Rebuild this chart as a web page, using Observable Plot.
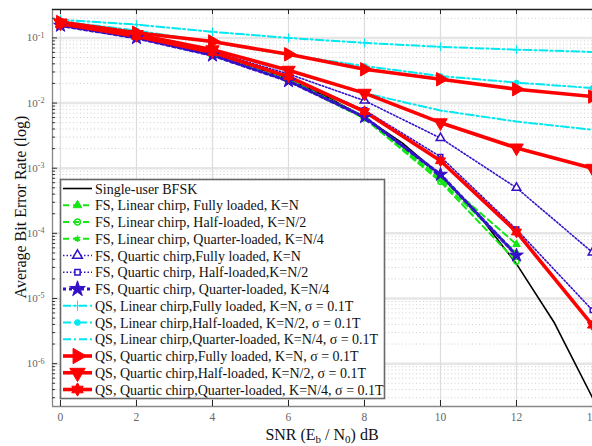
<!DOCTYPE html>
<html><head><meta charset="utf-8">
<script src="https://cdn.jsdelivr.net/npm/d3@7"></script>
<script src="https://cdn.jsdelivr.net/npm/@observablehq/plot@0.6"></script>
<style>body{margin:0;background:#fff}#chart{width:592px;height:446px}</style>
</head><body><div id="chart"></div>
<script>
// ---- data ----
const snr = [0, 2, 4, 6, 8, 10, 12, 14];
const snrFS = [0, 2, 4, 6, 8, 10, 12];
const snrBFSK = [0, 1, 2, 3, 4, 5, 6, 7, 8, 9, 10, 11, 12, 13, 14];
const berBFSK = [0.159, 0.131, 0.104, 0.0789, 0.0565, 0.0377, 0.023, 0.0126, 0.006, 0.00242, 7.8e-4, 1.93e-4, 3.4e-5, 4.2e-6, 3.0e-7];
const berFSLinFull = [0.158, 0.103, 0.056, 0.023, 0.0062, 7.0e-4, 6.8e-5];
const berFSLinHalf = [0.157, 0.102, 0.055, 0.022, 0.0058, 6.2e-4, 3.7e-5];
const berFSLinQuarter = [0.157, 0.102, 0.055, 0.0225, 0.006, 6.5e-4, 5.0e-5];
const berFSQuaFull = [0.16, 0.108, 0.062, 0.028, 0.0109, 0.0029, 5.0e-4, 5.1e-5];
const berFSQuaHalf = [0.16, 0.105, 0.058, 0.025, 0.0078, 0.0015, 1.15e-4, 6.6e-6];
const berFSQuaQuarter = [0.155, 0.1, 0.054, 0.0218, 0.0061, 8.0e-4, 4.6e-5];
const berQSLinFull = [0.19, 0.16, 0.124, 0.1, 0.084, 0.073, 0.066, 0.061];
const berQSLinHalf = [0.18, 0.13, 0.086, 0.055, 0.037, 0.026, 0.0206, 0.017];
const berQSLinQuarter = [0.17, 0.115, 0.066, 0.031, 0.0142, 0.0077, 0.0052, 0.0039];
const berQSQuaFull = [0.175, 0.12, 0.088, 0.056, 0.033, 0.0232, 0.0163, 0.0126];
const berQSQuaHalf = [0.17, 0.113, 0.066, 0.032, 0.0142, 0.005, 0.00205, 0.001];
const berQSQuaQuarter = [0.165, 0.106, 0.06, 0.0254, 0.0074, 0.0013, 1.05e-4, 3.9e-6];

const legendLabels = [
  "Single-user BFSK",
  "FS, Linear chirp, Fully loaded, K=N",
  "FS, Linear chirp, Half-loaded, K=N/2",
  "FS, Linear chirp, Quarter-loaded, K=N/4",
  "FS, Quartic chirp,Fully loaded, K=N",
  "FS, Quartic chirp, Half-loaded,K=N/2",
  "FS, Quartic chirp, Quarter-loaded, K=N/4",
  "QS, Linear chirp,Fully loaded, K=N, σ = 0.1T",
  "QS, Linear chirp,Half-loaded, K=N/2, σ = 0.1T",
  "QS, Linear chirp,Quarter-loaded, K=N/4, σ = 0.1T",
  "QS, Quartic chirp,Fully loaded, K=N, σ = 0.1T",
  "QS, Quartic chirp,Half-loaded, K=N/2, σ = 0.1T",
  "QS, Quartic chirp,Quarter-loaded, K=N/4, σ = 0.1T"
];
const xTicks = [0, 2, 4, 6, 8, 10, 12, 14];
const yDecades = [1e-6, 1e-5, 1e-4, 1e-3, 1e-2, 1e-1];
const xDomain = [-0.21, 14];
const yDomain = [2.2e-7, 0.273];

// ---- styles ----
const GREEN = "#14e614", BLUE = "#3410c8", CYAN = "#00e8f0", RED = "#ff0000";
const hexagram = {
  draw(ctx, size) {
    const R = Math.sqrt(size / 1.732), r0 = R / Math.sqrt(3);
    for (let k = 0; k < 12; k++) {
      const a = k * Math.PI / 6 - Math.PI / 2, rr = k % 2 ? r0 : R;
      const px = rr * Math.cos(a), py = rr * Math.sin(a);
      if (k) ctx.lineTo(px, py); else ctx.moveTo(px, py);
    }
    ctx.closePath();
  }
};
const series = [
  {x: snrBFSK, y: berBFSK, stroke: "#000", sw: 1.6, dash: null, sym: null},
  {x: snrFS, y: berFSLinFull, stroke: GREEN, sw: 2, dash: "6,4", sym: d3.symbolTriangle, r: 2.8, fill: GREEN},
  {x: snrFS, y: berFSLinHalf, stroke: GREEN, sw: 2, dash: "6,4", sym: d3.symbolCircle, r: 2.6, fill: "none", msw: 1.5},
  {x: snrFS, y: berFSLinQuarter, stroke: GREEN, sw: 2, dash: "6,4", sym: d3.symbolAsterisk, r: 2.6, fill: "none", msw: 1.5},
  {x: snr, y: berFSQuaFull, stroke: BLUE, sw: 1.6, dash: "1.5,2", sym: d3.symbolTriangle, r: 3.2, fill: "white", msw: 1.5},
  {x: snr, y: berFSQuaHalf, stroke: BLUE, sw: 1.6, dash: "1.5,2", sym: d3.symbolSquare, r: 2.6, fill: "white", msw: 1.5},
  {x: snrFS, y: berFSQuaQuarter, stroke: BLUE, sw: 3.2, dash: "3,3", sym: d3.symbolStar, r: 4.3, fill: BLUE},
  {x: snr, y: berQSLinFull, stroke: CYAN, sw: 2, dash: "8,3,2,3", sym: d3.symbolPlus, r: 3, fill: CYAN},
  {x: snr, y: berQSLinHalf, stroke: CYAN, sw: 2, dash: "8,3,2,3", sym: d3.symbolCircle, r: 2.5, fill: CYAN},
  {x: snr, y: berQSLinQuarter, stroke: CYAN, sw: 2, dash: "8,3,2,3", sym: null},
  {x: snr, y: berQSQuaFull, stroke: RED, sw: 3.6, dash: null, sym: d3.symbolTriangle, r: 5, fill: RED, rot: 90},
  {x: snr, y: berQSQuaHalf, stroke: RED, sw: 3.6, dash: null, sym: d3.symbolTriangle, r: 5, fill: RED, rot: 180},
  {x: snr, y: berQSQuaQuarter, stroke: RED, sw: 3.6, dash: null, sym: hexagram, r: 4.3, fill: RED}
];
const rows = series.flatMap((s, i) => s.x.map((x, j) => ({series: i, snr: x, ber: s.y[j]})));

const minor = [];
for (let k = -7; k <= -1; k++) for (let m = 2; m <= 9; m++) {
  const v = m * Math.pow(10, k);
  if (v > yDomain[0] && v < yDomain[1]) minor.push(v);
}

const W = 592, H = 446, mT = 9, mB = 40, mL = 52, mR = 0;
const plotW = W - mL - mR, plotH = H - mT - mB;

const marks = [
  Plot.ruleY(minor, {stroke: "#cfcfcf", strokeDasharray: "1,2.5"}),
  Plot.ruleY(yDecades, {stroke: "#e6e6e6", strokeWidth: 2.5}),
  Plot.ruleX(xTicks, {stroke: "#dcdcdc", strokeWidth: 1.2}),
  Plot.ruleX([xDomain[0]], {stroke: "#888", strokeWidth: 1.3}),
  Plot.ruleY([yDomain[0]], {stroke: "#888", strokeWidth: 1.3}),
  Plot.ruleY([yDomain[1]], {stroke: "#222", strokeWidth: 1.3}),
  Plot.ruleY(minor, {stroke: "#333", insetRight: plotW - 3}),
  Plot.ruleY(yDecades, {stroke: "#333", insetRight: plotW - 5}),
  Plot.ruleX(xTicks, {stroke: "#222", insetBottom: plotH - 5}),
  Plot.ruleX(xTicks, {stroke: "#222", insetTop: plotH - 6}),
  Plot.axisY({ticks: yDecades, tickSize: 0, tickPadding: 8, fontSize: 11, fill: "#666",
    tickFormat: d => String(Math.round(Math.log10(d))), label: null}),
  Plot.axisX({ticks: xTicks, tickSize: 0, tickPadding: 6, fontSize: 11.5, fill: "#666",
    tickFormat: d => String(d), label: null})
];
series.forEach((s, i) => {
  const data = rows.filter(d => d.series === i);
  marks.push(Plot.line(data, {x: "snr", y: "ber", stroke: s.stroke, strokeWidth: s.sw,
    strokeDasharray: s.dash, strokeLinejoin: "round"}));
});
series.forEach((s, i) => {
  if (!s.sym) return;
  const data = rows.filter(d => d.series === i);
  marks.push(Plot.dot(data, {x: "snr", y: "ber", symbol: s.sym, r: s.r, fill: s.fill,
    stroke: s.stroke, strokeWidth: s.msw || 1, rotate: s.rot || 0}));
});

const svg = Plot.plot({
  width: W, height: H, marginTop: mT, marginBottom: mB, marginLeft: mL, marginRight: mR,
  x: {domain: xDomain},
  y: {type: "log", domain: yDomain},
  style: {fontFamily: "'Liberation Serif', 'Times New Roman', serif", background: "white", overflow: "hidden"},
  marks
});

// superscript exponents on y tick labels
svg.querySelectorAll('g[aria-label="y-axis tick label"] text').forEach(t => {
  const e = t.textContent;
  t.textContent = "10";
  const ts = document.createElementNS("http://www.w3.org/2000/svg", "tspan");
  ts.setAttribute("dy", "-0.45em");
  ts.setAttribute("font-size", "8");
  ts.textContent = e;
  t.appendChild(ts);
});

const sel = d3.select(svg);
const font = "'Liberation Serif', 'Times New Roman', serif";
// axis titles
const xl = sel.append("text").attr("x", mL + plotW / 2).attr("y", 440).attr("text-anchor", "middle")
  .attr("font-family", font).attr("font-size", 16).attr("fill", "#111");
xl.append("tspan").text("SNR (E");
xl.append("tspan").attr("font-size", 11).attr("dy", 3).text("b");
xl.append("tspan").attr("dy", -3).text(" / N");
xl.append("tspan").attr("font-size", 11).attr("dy", 3).text("0");
xl.append("tspan").attr("dy", -3).text(") dB");
sel.append("text").attr("transform", `translate(26,${mT + 198}) rotate(-90)`).attr("text-anchor", "middle")
  .attr("font-family", font).attr("font-size", 16).attr("fill", "#111").text("Average Bit Error Rate (log)");

// legend
const lg = sel.append("g").attr("text-anchor", "start");
lg.append("rect").attr("x", 60.5).attr("y", 179.5).attr("width", 324).attr("height", 219)
  .attr("fill", "white").attr("stroke", "#6a6a6a").attr("stroke-width", 1.6);
series.forEach((s, i) => {
  const cy = 188.5 + i * 16.75;
  lg.append("line").attr("x1", 63).attr("x2", 92).attr("y1", cy).attr("y2", cy)
    .attr("stroke", s.stroke).attr("stroke-width", s.sw).attr("stroke-dasharray", s.dash);
  if (s.sym) {
    lg.append("path").attr("d", d3.symbol(s.sym, s.r * s.r * Math.PI * 1.3)())
      .attr("transform", `translate(77.5,${cy}) rotate(${s.rot || 0})`)
      .attr("fill", s.fill).attr("stroke", s.stroke).attr("stroke-width", s.msw || 1);
  }
  lg.append("text").attr("x", 95).attr("y", cy + 5).attr("text-anchor", "start").attr("font-family", font)
    .attr("font-size", 14).attr("fill", "#111").text(legendLabels[i]);
});

document.getElementById("chart").appendChild(svg);
</script>
</body></html>
